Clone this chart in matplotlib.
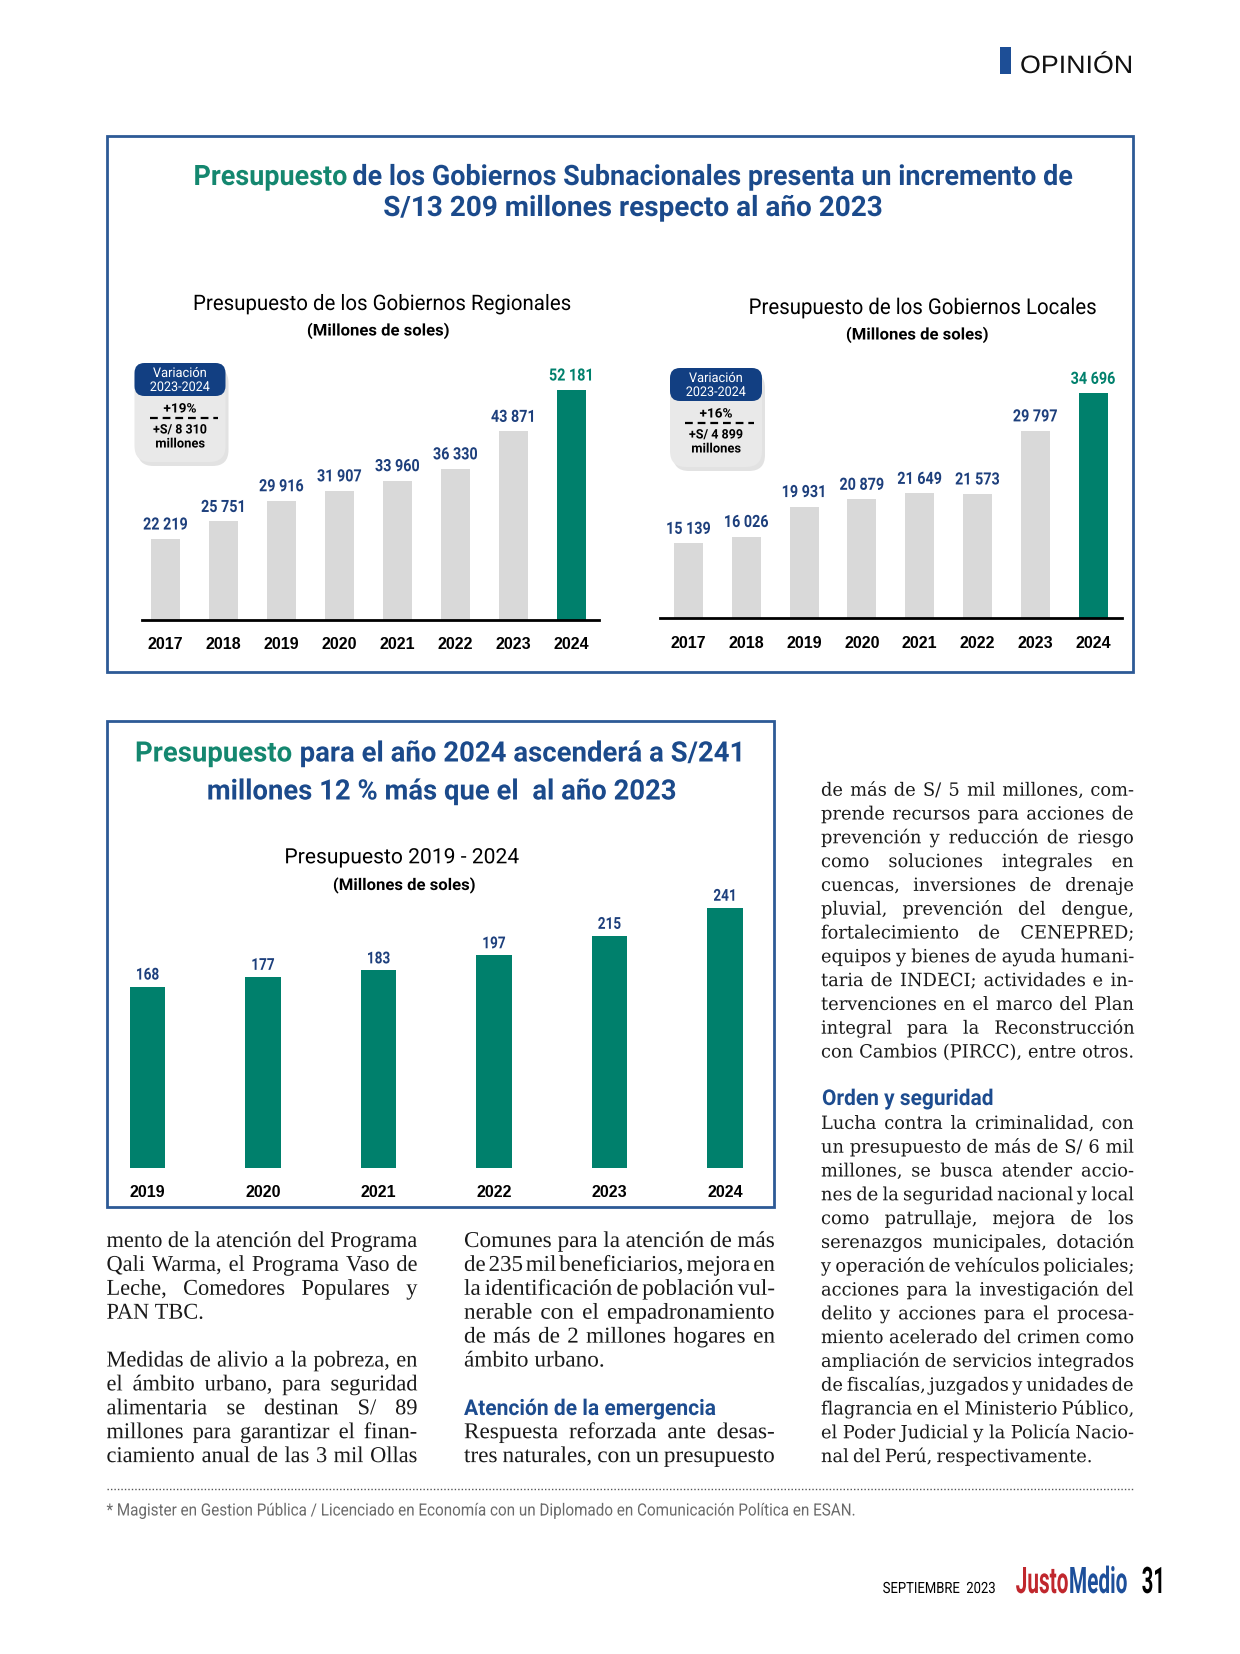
import numpy as np
import matplotlib
matplotlib.use("Agg")
from matplotlib import pyplot as plt
from matplotlib import font_manager
from matplotlib.patches import FancyBboxPatch, Rectangle
from matplotlib.patheffects import AbstractPathEffect
from matplotlib.transforms import Affine2D

# ---- datos ----
anios_gob = ["2017", "2018", "2019", "2020", "2021", "2022", "2023", "2024"]
gob_regionales = [22219, 25751, 29916, 31907, 33960, 36330, 43871, 52181]
gob_locales = [15139, 16026, 19931, 20879, 21649, 21573, 29797, 34696]
anios_total = ["2019", "2020", "2021", "2022", "2023", "2024"]
presupuesto_total = [168, 177, 183, 197, 215, 241]
var_regionales = ["+19%", "+S/ 8 310", "millones"]
var_locales = ["+16%", "+S/ 4 899", "millones"]

# colores
AZUL = "#1b4a8b"
AZUL_OSC = "#123f82"
AZUL_NUM = "#1d3f7c"
VERDE = "#00806c"
VERDE_TXT = "#14876f"
GRIS = "#d9d9d9"
BORDE = "#2d5a96"
TEXTO = "#1a1a1a"


def hay_negrita(fam):
    return any(f.name == fam and f.weight in (700, "bold") for f in font_manager.fontManager.ttflist)


SANS = "Roboto" if hay_negrita("Roboto") else "Liberation Sans"
# altura de mayusculas / tamano de la fuente
CAP = {"Roboto": 0.711, "Liberation Sans": 0.716, "DejaVu Sans": 0.729,
       "Liberation Serif": 0.662, "DejaVu Serif": 0.729}

W, H = 1240, 1654
fig = plt.figure(figsize=(W / 100, H / 100), dpi=100, facecolor="white")
fondo = fig.add_axes([0, 0, 1, 1])
fondo.set_xlim(0, W)
fondo.set_ylim(H, 0)
fondo.axis("off")
r = fig.canvas.get_renderer()


class Alto(AbstractPathEffect):
    """Estira el texto en vertical: letra mas estrecha con la misma altura."""

    def __init__(self, sy):
        super().__init__()
        self.sy = sy

    def draw_path(self, renderer, gc, tpath, affine, rgbFace=None):
        renderer.draw_path(gc, tpath, Affine2D().scale(1, self.sy) + affine, rgbFace)


def medir(t):
    return t.get_window_extent(renderer=r).width


def pt(cap, fam):
    return cap / CAP[fam] * 0.72


def estrechar(t, size, sx):
    t.set_fontsize(size * sx)
    t.set_path_effects([Alto(1 / sx)])


def rotulo(x, y, s, cap, ancho=None, sx=None, ha="center", fam=SANS, peso="normal", color="black"):
    # y = linea base en pixeles
    size = pt(cap, fam)
    t = fondo.text(x, y, s, ha=ha, va="baseline", fontsize=size, family=fam,
                   fontweight=peso, color=color)
    if sx is None:
        sx = ancho / medir(t) if ancho else 1.0
    estrechar(t, size, sx)
    return sx


def dos_colores(cx, y, a, b, ca, cb, cap, ancho, sep=" ", fam=SANS, peso="bold"):
    t = fondo.text(0, y, a + sep + b, fontsize=pt(cap, fam), family=fam, fontweight=peso)
    sx = ancho / medir(t)
    t.remove()
    x0 = cx - ancho / 2
    rotulo(x0, y, a, cap, sx=sx, ha="left", fam=fam, peso=peso, color=ca)
    rotulo(x0 + ancho, y, b, cap, sx=sx, ha="right", fam=fam, peso=peso, color=cb)
    return sx


def ejes_px(x0, y0, x1, y1):
    ax = fig.add_axes([x0 / W, 1 - y1 / H, (x1 - x0) / W, (y1 - y0) / H])
    ax.patch.set_alpha(0)
    for s in ax.spines.values():
        s.set_visible(False)
    ax.tick_params(left=False, labelleft=False, bottom=False)
    return ax


def miles(v):
    return f"{v:,}".replace(",", " ")


def a_px(ax, x, y):
    dx, dy = ax.transData.transform((x, y))
    return dx, H - dy


def etiquetas(ax, valores, textos, cap, ancho_ref, sube, colores):
    t = fondo.text(0, 0, textos[0], fontsize=pt(cap, SANS), family=SANS, fontweight="bold")
    sx = ancho_ref / medir(t)
    t.remove()
    for i, (v, s) in enumerate(zip(valores, textos)):
        px, py = a_px(ax, i, v)
        rotulo(px, py - sube, s, cap, sx=sx, peso="bold", color=colores[i])


def insignia(cx, y0, ancho, datos):
    x0 = cx - ancho / 2
    fondo.add_patch(FancyBboxPatch((x0 + 3, y0 + 4), ancho, 99,
                    boxstyle="round,pad=0,rounding_size=16", fc="#cfcfcf", ec="none", alpha=0.6))
    fondo.add_patch(FancyBboxPatch((x0, y0), ancho, 99,
                    boxstyle="round,pad=0,rounding_size=16", fc="#e9e9e9", ec="none"))
    fondo.add_patch(FancyBboxPatch((x0, y0), ancho, 33,
                    boxstyle="round,pad=0,rounding_size=10", fc=AZUL_OSC, ec="none"))
    rotulo(cx, y0 + 14, "Variación", 9.5, ancho=54, color="white")
    rotulo(cx, y0 + 28, "2023-2024", 9.5, ancho=60, color="white")
    rotulo(cx, y0 + 49.5, datos[0], 9.3, ancho=33, peso="bold")
    fondo.plot([x0 + 15, x0 + ancho - 8], [y0 + 55, y0 + 55], color="black", lw=1.6, ls=(0, (3.5, 2.2)))
    rotulo(cx, y0 + 70.5, datos[1], 9.3, ancho=54, peso="bold")
    rotulo(cx, y0 + 84.5, datos[2], 9.3, ancho=50, peso="bold")


def grafico_gob(ax, valores, y_min, y_max, ancho_barra):
    n = len(valores)
    x = np.arange(n)
    colores = [GRIS] * (n - 1) + [VERDE]
    ax.bar(x, valores, width=ancho_barra, color=colores)
    ax.set_ylim(y_min, y_max)
    ax.spines["bottom"].set_visible(True)
    ax.spines["bottom"].set_linewidth(2)
    ax.set_xticks(x, anios_gob, fontsize=11.5, fontweight="bold", family="Liberation Sans")
    ax.tick_params(axis="x", pad=9)
    etiquetas(ax, valores, [miles(v) for v in valores], 12, 45, 9.5,
              [AZUL_NUM] * (n - 1) + [VERDE])


# ---- encabezado ----
fondo.add_patch(Rectangle((1000, 47), 11, 27, fc="#1d4e96", ec="none"))
rotulo(1020, 73, "OPINIÓN", 18, ancho=113, ha="left", fam="Liberation Sans", color="#111111")

# ---- recuadro superior ----
fondo.add_patch(Rectangle((106.5, 136), 1026, 536, fc="none", ec=BORDE, lw=2))
dos_colores(634, 185, "Presupuesto", "de los Gobiernos Subnacionales presenta un incremento de",
            VERDE_TXT, AZUL, 20, 881)
rotulo(633, 216, "S/13 209 millones respecto al año 2023", 20, ancho=500, peso="bold", color=AZUL)

rotulo(381, 310, "Presupuesto de los Gobiernos Regionales", 15.2, ancho=378)
rotulo(378, 335.5, "(Millones de soles)", 11.5, ancho=142, peso="bold")
rotulo(922, 314, "Presupuesto de los Gobiernos Locales", 15.5, ancho=347)
rotulo(917, 339.5, "(Millones de soles)", 11.5, ancho=142, peso="bold")

ax1 = ejes_px(142, 340, 599, 619.7)
ax1.set_xlim(-0.405, 7.476)
grafico_gob(ax1, gob_regionales, 6000, 62240, 0.5)

ax2 = ejes_px(660, 340, 1122, 618.3)
ax2.set_xlim(-0.493, 7.5)
grafico_gob(ax2, gob_locales, 5360, 41650, 0.5)

insignia(180, 363, 91, var_regionales)
insignia(716, 368, 92, var_locales)

# ---- recuadro inferior ----
fondo.add_patch(Rectangle((106.5, 721), 667.5, 486, fc="none", ec=BORDE, lw=2))
dos_colores(440, 761.5, "Presupuesto", "para el año 2024 ascenderá a S/241", VERDE_TXT, AZUL, 20, 610)
rotulo(441, 799.5, "millones 12 % más que el  al año 2023", 20, ancho=470, peso="bold", color=AZUL)
rotulo(402, 863.3, "Presupuesto 2019 - 2024", 15, ancho=235)
rotulo(404, 890, "(Millones de soles)", 11.5, ancho=142, peso="bold")

ax3 = ejes_px(106.5, 830, 774, 1168)
ax3.set_xlim(-0.355, 5.424)
ax3.set_ylim(0, 313)
xb = np.arange(len(presupuesto_total))
ax3.bar(xb, presupuesto_total, width=0.31, color=VERDE)
ax3.set_xticks(xb, anios_total, fontsize=11.5, fontweight="bold", family="Liberation Sans")
ax3.tick_params(axis="x", pad=9)
etiquetas(ax3, presupuesto_total, [str(v) for v in presupuesto_total], 11.7, 23.5, 7,
          [AZUL_NUM] * len(presupuesto_total))

# ---- texto del articulo ----
col1 = ["mento de la atención del Programa",
        "Qali Warma, el Programa Vaso de",
        "Leche, Comedores Populares y",
        "PAN TBC.",
        "",
        "Medidas de alivio a la pobreza, en",
        "el ámbito urbano, para seguridad",
        "alimentaria se destinan S/ 89",
        "millones para garantizar el finan-",
        "ciamiento anual de las 3 mil Ollas"]
col2 = ["Comunes para la atención de más",
        "de 235 mil beneficiarios, mejora en",
        "la identificación de población vul-",
        "nerable con el empadronamiento",
        "de más de 2 millones hogares en",
        "ámbito urbano.",
        "",
        "",
        "Respuesta reforzada ante desas-",
        "tres naturales, con un presupuesto"]
col3 = ["de más de S/ 5 mil millones, com-",
        "prende recursos para acciones de",
        "prevención y reducción de riesgo",
        "como soluciones integrales en",
        "cuencas, inversiones de drenaje",
        "pluvial, prevención del dengue,",
        "fortalecimiento de CENEPRED;",
        "equipos y bienes de ayuda humani-",
        "taria de INDECI; actividades e in-",
        "tervenciones en el marco del Plan",
        "integral para la Reconstrucción",
        "con Cambios (PIRCC), entre otros.",
        "",
        "",
        "Lucha contra la criminalidad, con",
        "un presupuesto de más de S/ 6 mil",
        "millones, se busca atender accio-",
        "nes de la seguridad nacional y local",
        "como patrullaje, mejora de los",
        "serenazgos municipales, dotación",
        "y operación de vehículos policiales;",
        "acciones para la investigación del",
        "delito y acciones para el procesa-",
        "miento acelerado del crimen como",
        "ampliación de servicios integrados",
        "de fiscalías, juzgados y unidades de",
        "flagrancia en el Ministerio Público,",
        "el Poder Judicial y la Policía Nacio-",
        "nal del Perú, respectivamente."]


def parrafo(lineas, x0, x1, y0, paso, sueltas, cap, fam, ref):
    size = pt(cap, fam)
    t = fondo.text(0, 0, lineas[ref], fontsize=size, family=fam)
    sx = (x1 - x0) / medir(t)
    t.remove()
    espacio = size / 0.72 * 0.25
    for i, linea in enumerate(lineas):
        if not linea:
            continue
        y = y0 + i * paso
        objs = [fondo.text(x0, y, p, ha="left", va="baseline", fontsize=size, family=fam, color=TEXTO)
                for p in linea.split(" ")]
        n = len(objs)
        sxl = sx
        if n > 1:
            sxl = min(sx, (x1 - x0 - 3 * (n - 1)) / sum(medir(o) for o in objs))
        for o in objs:
            estrechar(o, size, sxl)
        anchos = [medir(o) for o in objs]
        if i in sueltas or n == 1:
            hueco = espacio * sxl
        else:
            hueco = (x1 - x0 - sum(anchos)) / (n - 1)
        x = x0
        for o, a in zip(objs, anchos):
            o.set_x(x)
            x += a + hueco


parrafo(col1, 106.5, 417.5, 1247, 23.9, [3], 15, "Liberation Serif", 0)
parrafo(col2, 464, 775, 1247, 23.9, [5], 15, "Liberation Serif", 0)
parrafo(col3, 821, 1133.5, 795.7, 23.8, [28], 13.3, "DejaVu Serif", 11)

rotulo(464, 1415, "Atención de la emergencia", 15.5, ancho=251, ha="left", peso="bold", color="#1d4c8f")
rotulo(822, 1105, "Orden y seguridad", 15.5, ancho=171, ha="left", peso="bold", color="#1d4c8f")

# ---- pie ----
fondo.plot([106.5, 1133], [1489, 1489], color="#555555", lw=1, ls=(0, (1, 1.5)))
rotulo(106.5, 1515.5, "* Magister en Gestion Pública / Licenciado en Economía con un Diplomado en "
       "Comunicación Política en ESAN.", 12, ancho=745, ha="left", color="#6a6a6a")
rotulo(882.7, 1593, "SEPTIEMBRE  2023", 11, ancho=113, ha="left", color="black")
dos_colores(1071.5, 1593, "Justo", "Medio", "#c0272d", "#1d4f9a", 26, 111.6, sep="")
rotulo(1141.7, 1593, "31", 26, ancho=23.3, ha="left", peso="bold", color="black")

fig.savefig("out.png", dpi=100, facecolor="white")
